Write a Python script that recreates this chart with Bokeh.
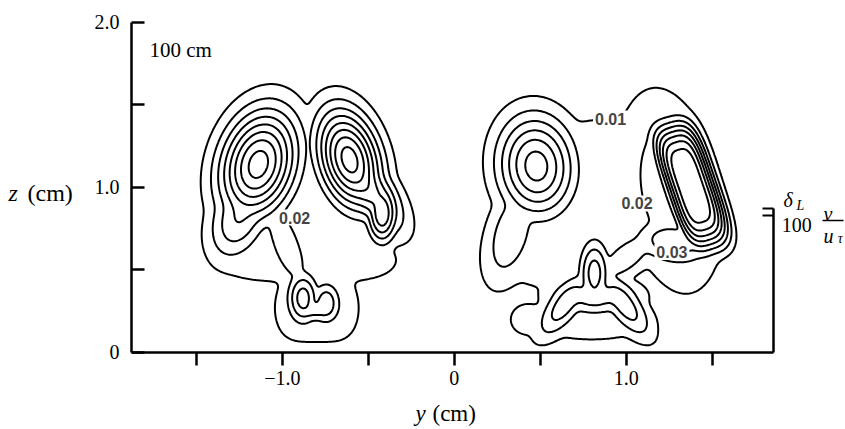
import numpy as np
from bokeh.plotting import figure
from bokeh.models import Range1d, FixedTicker, LinearAxis, Label, Arrow
from bokeh.embed import file_html
from bokeh.resources import INLINE

# ---------------- data ----------------
levels = [0.01, 0.02, 0.03, 0.04, 0.05, 0.06, 0.07, 0.08]

# features of the measured field: centre y, centre z (cm), height, spread along / across axis (cm),
# axis angle (deg), flatness along / across the axis (1 = gaussian)
peak_y      = [-1.14, -1.25, -0.98, -0.61, -0.51, -0.42, -0.80, -0.85, -0.88, -0.745, -0.81, -0.80,
               0.477, 0.33, 0.42, 0.80, 0.55, 0.90, 0.90, 0.815, 0.64, 0.99, 0.815, 1.375, 1.26, 1.27, 1.00]
peak_z      = [1.14, 0.82, 0.66, 1.17, 1.00, 0.84, 0.95, 0.56, 0.33, 0.30, 0.26, 0.27,
               1.13, 0.72, 0.20, 0.20, 0.60, 0.98, 1.30, 0.48, 0.29, 0.29, 0.34, 1.01, 0.98, 0.67, 0.58]
peak_h      = [0.085, 0.040, 0.028, 0.085, 0.055, 0.058, 0.014, 0.0145, 0.045, 0.037, 0.034, 0.017,
               0.065, 0.028, 0.013, 0.0145, 0.014, 0.014, 0.014, 0.045, 0.036, 0.036, 0.035, 0.090, 0.028,
               0.038, 0.026]
peak_sa     = [0.24, 0.20, 0.25, 0.22, 0.22, 0.13, 0.35, 0.55, 0.12, 0.10, 0.10, 0.24,
               0.22, 0.25, 0.12, 0.40, 0.35, 0.35, 0.30, 0.16, 0.18, 0.18, 0.20, 0.33, 0.44, 0.17, 0.20]
peak_sb     = [0.155, 0.12, 0.08, 0.125, 0.10, 0.065, 0.42, 0.15, 0.07, 0.065, 0.06, 0.20,
               0.16, 0.11, 0.12, 0.14, 0.25, 0.45, 0.12, 0.07, 0.075, 0.075, 0.09, 0.113, 0.20, 0.10, 0.09]
peak_angle  = [75, 70, 110, 105, 125, 90, 0, 0, 90, 90, 0, 0,
               95, 75, 0, 0, 0, 0, 0, 90, 55, 125, 0, 108, 100, -10, 40]
peak_flat_a = [1, 1, 1, 1, 1, 1, 2, 2, 1, 1, 1, 2,
               1, 1, 1, 1, 1, 2, 1, 1, 1, 1, 1, 2, 1, 1, 1]
peak_flat_b = [1, 1, 1, 1, 1, 1, 1, 1, 1, 1, 1, 1,
               1, 1, 1, 1, 1, 1, 1, 1, 1, 1, 1, 1.5, 1, 1, 1]

# axis ticks
x_ticks = [-1.5, -1.0, -0.5, 0.0, 0.5, 1.0, 1.5]
x_tick_labels = ["", "\u22121.0", "", "0", "", "1.0", ""]
z_ticks = [0.0, 0.5, 1.0, 1.5, 2.0]
z_tick_labels = ["0", "", "1.0", "", "2.0"]

# contour labels
clabel_text = ["0.01", "0.02", "0.02", "0.03"]
clabel_y = [0.909, -0.929, 1.063, 1.266]
clabel_z = [1.418, 0.818, 0.903, 0.609]

# ---------------- field ----------------
y_min, y_max, z_min, z_max = -1.878, 1.855, 0.0, 2.0
yg = np.linspace(y_min, y_max, 460)
zg = np.linspace(z_min, z_max, 260)
Y, Z = np.meshgrid(yg, zg)
acc = np.zeros_like(Y)
K = 6
for cy, cz, h, sa, sb, ang, fa, fb in zip(peak_y, peak_z, peak_h, peak_sa, peak_sb,
                                          peak_angle, peak_flat_a, peak_flat_b):
    t = np.deg2rad(ang)
    dy, dz = Y - cy, Z - cz
    u = dy * np.cos(t) + dz * np.sin(t)
    v = -dy * np.sin(t) + dz * np.cos(t)
    f = h * np.exp(-0.5 * (np.abs(u / sa) ** (2 * fa) + np.abs(v / sb) ** (2 * fb)))
    acc += f ** K
F = acc ** (1.0 / K)

# ---------------- figure: frame covers the whole canvas ----------------
X0, X1 = -2.640, 2.2757
Z0, Z1 = -0.4667, 2.1333
p = figure(width=845, height=429, x_range=Range1d(X0, X1), y_range=Range1d(Z0, Z1),
           output_backend="svg", toolbar_location=None,
           min_border_left=0, min_border_right=0, min_border_top=0, min_border_bottom=0)
p.xgrid.visible = False
p.ygrid.visible = False
p.outline_line_color = None
p.background_fill_color = "white"

p.contour(yg, zg, F, levels, line_color="black", line_width=2.0)

serif = "Liberation Serif"
xa = p.xaxis[0]
xa.fixed_location = z_min
xa.bounds = (y_min, y_max)
xa.ticker = FixedTicker(ticks=x_ticks)
xa.major_label_overrides = {t: s for t, s in zip(x_ticks, x_tick_labels)}
xa.major_tick_out = 13
xa.major_tick_in = 0
xa.minor_tick_line_color = None
xa.major_tick_line_width = 2.5
xa.axis_line_width = 2.5
xa.major_label_standoff = 6
xa.major_label_text_font = serif
xa.major_label_text_font_size = "20px"
xa.major_label_text_color = "black"

ya = p.yaxis[0]
ya.fixed_location = y_min
ya.bounds = (z_min, z_max)
ya.ticker = FixedTicker(ticks=z_ticks)
ya.major_label_overrides = {t: s for t, s in zip(z_ticks, z_tick_labels)}
ya.major_tick_out = 0
ya.major_tick_in = 13
ya.minor_tick_line_color = None
ya.major_tick_line_width = 2.5
ya.axis_line_width = 2.5
ya.major_label_standoff = 12
ya.major_label_text_font = serif
ya.major_label_text_font_size = "20px"
ya.major_label_text_color = "black"

# right scale bar (delta_L / 100 nu/u_tau)
ra = LinearAxis(fixed_location=y_max, bounds=(0.0, 0.873), ticker=FixedTicker(ticks=[0.83, 0.873]),
                major_tick_in=11, major_tick_out=0, minor_tick_line_color=None,
                major_tick_line_width=2.0, axis_line_width=2.5,
                major_label_overrides={0.83: "", 0.873: ""})
p.add_layout(ra, "right")

for txt, x, y in zip(clabel_text, clabel_y, clabel_z):
    p.add_layout(Label(x=x, y=y, text=txt, text_font="Liberation Sans", text_font_size="16px",
                       text_font_style="bold", text_align="center", text_baseline="middle",
                       background_fill_color="white", padding=2))

def lab(x, y, txt, size="20px", style="normal"):
    p.add_layout(Label(x=x, y=y, text=txt, text_font=serif, text_font_size=size,
                       text_font_style=style, text_align="left", text_baseline="alphabetic",
                       text_color="black"))

lab(-2.593, 0.964, "z", "24px", "italic")
lab(-2.483, 0.964, "(cm)", "24px")
lab(-0.226, -0.37, "y", "23px", "italic")
lab(-0.127, -0.37, "(cm)", "23px")
lab(-1.773, 1.836, "100 cm", "21px")
lab(1.915, 0.927, "\u03b4", "20px", "italic")
lab(1.99, 0.89, "L", "14px", "italic")
lab(1.905, 0.770, "100", "20px")
lab(2.148, 0.840, "\u03bd", "20px", "italic")
lab(2.148, 0.703, "u", "20px", "italic")
lab(2.230, 0.688, "\u03c4", "14px", "italic")
p.add_layout(Arrow(start=None, end=None, x_start=2.142, y_start=0.800, x_end=2.264, y_end=0.800,
                   line_width=1.5, line_color="black"))

open("out.html", "w").write(file_html(p, INLINE))
